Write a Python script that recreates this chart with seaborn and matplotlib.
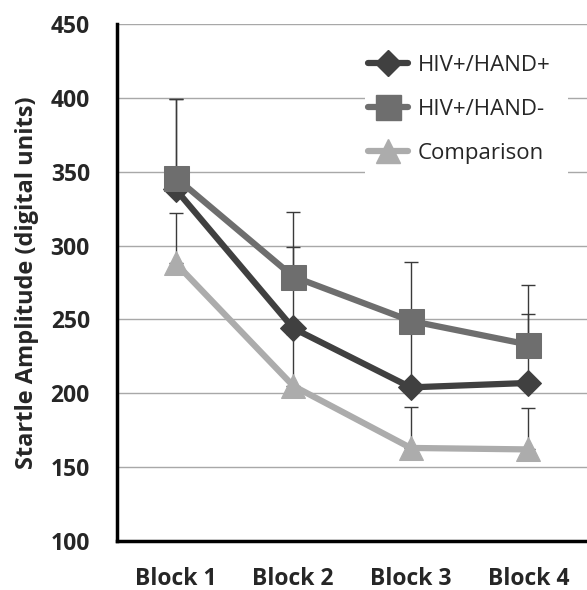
import matplotlib
matplotlib.use("Agg")
import matplotlib.pyplot as plt
import seaborn as sns
import pandas as pd
import numpy as np
from matplotlib.lines import Line2D
from matplotlib.patches import Rectangle

blocks = ["Block 1", "Block 2", "Block 3", "Block 4"]
groups = ["HIV+/HAND+", "HIV+/HAND-", "Comparison"]
hand_pos = [338, 244, 204, 207]
hand_neg = [346, 279, 249, 233]
comparison = [288, 205, 163, 162]
hand_pos_err = [61, 55, 45, 47]
hand_neg_err = [53, 44, 40, 40]
comparison_err = [34, 35, 28, 28]

yticks = [100, 150, 200, 250, 300, 350, 400, 450]

values = {"HIV+/HAND+": hand_pos, "HIV+/HAND-": hand_neg, "Comparison": comparison}
errors = {"HIV+/HAND+": hand_pos_err, "HIV+/HAND-": hand_neg_err, "Comparison": comparison_err}

rows = []
for g in groups:
    for b, v in zip(blocks, values[g]):
        rows.append({"Block": b, "Group": g, "Value": v})
df = pd.DataFrame(rows)

sns.set_style("white")
plt.rcParams["font.family"] = ["Open Sans", "DejaVu Sans"]

colors = {"HIV+/HAND+": "#404040", "HIV+/HAND-": "#6e6e6e", "Comparison": "#acacac"}
markers = {"HIV+/HAND+": "D", "HIV+/HAND-": "s", "Comparison": "^"}
msizes = {"HIV+/HAND+": 13, "HIV+/HAND-": 18, "Comparison": 17}

W, H = 587, 590
fig = plt.figure(figsize=(W / 100, H / 100), dpi=100)
ax = fig.add_axes([117 / W, 49 / H, 470 / W, 517 / H])

xpos = np.arange(len(blocks))
# error bars (upper only), behind lines
for g in groups:
    ax.errorbar(xpos, values[g], yerr=[np.zeros(len(blocks)), errors[g]],
                fmt="none", ecolor="#3a3a3a", elinewidth=1.0, capsize=5,
                capthick=1.0, zorder=2)

sns.lineplot(data=df, x="Block", y="Value", hue="Group", style="Group",
             palette=colors, markers=markers, dashes=False, sort=False,
             linewidth=4.5, ax=ax, zorder=4, legend=False)

for line, g in zip(ax.get_lines()[-3:], groups):
    line.set_markersize(msizes[g])
    line.set_markeredgecolor(colors[g])
    line.set_markerfacecolor(colors[g])

ax.set_xlim(-0.5, 3.5)
ax.set_ylim(100, 450)
ax.set_yticks(yticks)
ax.set_yticklabels([str(t) for t in yticks])
ax.set_xticks(xpos)
ax.set_xticklabels(blocks)
ax.tick_params(axis="both", length=0, labelsize=16.5)
ax.tick_params(axis="y", pad=19.5)
ax.tick_params(axis="x", pad=19)
for lab in ax.get_xticklabels() + ax.get_yticklabels():
    lab.set_fontweight("bold")
ax.set_xlabel("")
ax.set_ylabel("Startle Amplitude (digital units)", fontsize=17, fontweight="bold", labelpad=8)

ax.grid(axis="y", color="#a8a8a8", linewidth=1.0)
ax.set_axisbelow(True)
for s in ["top", "right"]:
    ax.spines[s].set_visible(False)
for s in ["left", "bottom"]:
    ax.spines[s].set_color("black")
    ax.spines[s].set_linewidth(2.5)

# white legend area covering gridlines
ax.add_patch(Rectangle((365 / W, 1 - 182 / H), (568 - 365) / W, (182 - 30) / H,
                       transform=fig.transFigure, facecolor="white", edgecolor="none",
                       zorder=1.5))

handles = [Line2D([0], [0], color=colors[g], marker=markers[g], markersize=msizes[g],
                  linewidth=4.5, markeredgecolor=colors[g]) for g in groups]
leg = ax.legend(handles, groups, loc="upper left", bbox_to_anchor=(368 / W, 1 - 55 / H),
                bbox_transform=fig.transFigure, frameon=False, fontsize=16,
                handlelength=1.8, handletextpad=0.45, labelspacing=1.03,
                borderpad=0, borderaxespad=0)

fig.savefig("out.png", dpi=100)
